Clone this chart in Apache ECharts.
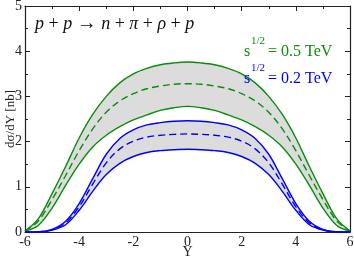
<!DOCTYPE html>
<html><head><meta charset="utf-8">
<script src="https://cdn.jsdelivr.net/npm/echarts@6/dist/echarts.min.js"></script>
<style>html,body{margin:0;padding:0;background:#fff}#c{width:354px;height:259px}</style>
</head><body><div id="c"></div>
<script>
var rapidity = [-6,-5.5,-5,-4.5,-4,-3.5,-3,-2.5,-2,-1.5,-1,-0.5,0,0.5,1,1.5,2,2.5,3,3.5,4,4.5,5,5.5,6];
// sqrt(s) = 0.5 TeV
var g05Upper = [0.02,0.3,0.85,1.45,2.08,2.6,3.0,3.3,3.5,3.62,3.7,3.74,3.76,3.74,3.7,3.62,3.5,3.3,3.0,2.6,2.08,1.45,0.85,0.3,0.02];
var g05Mid   = [0.02,0.25,0.72,1.25,1.8,2.28,2.65,2.9,3.06,3.17,3.23,3.27,3.28,3.27,3.23,3.17,3.06,2.9,2.65,2.28,1.8,1.25,0.72,0.25,0.02];
var g05Lower = [0.02,0.15,0.53,1.03,1.5,1.88,2.14,2.33,2.48,2.59,2.69,2.75,2.78,2.75,2.69,2.59,2.48,2.33,2.14,1.88,1.5,1.03,0.53,0.15,0.02];
// sqrt(s) = 0.2 TeV
var b02Upper = [0,0.005,0.06,0.24,0.63,1.18,1.72,2.07,2.26,2.37,2.42,2.45,2.46,2.45,2.42,2.37,2.26,2.07,1.72,1.18,0.63,0.24,0.06,0.005,0];
var b02Mid   = [0,0.004,0.05,0.2,0.56,1.06,1.53,1.84,2.01,2.1,2.14,2.16,2.17,2.16,2.14,2.1,2.01,1.84,1.53,1.06,0.56,0.2,0.05,0.004,0];
var b02Lower = [0,0.003,0.04,0.16,0.48,0.9,1.27,1.52,1.67,1.76,1.8,1.82,1.83,1.82,1.8,1.76,1.67,1.52,1.27,0.9,0.48,0.16,0.04,0.003,0];

var GREEN = '#0a8c0a', BLUE = '#0000ff', FILL = '#dcdcdc';
var FONT = '"Liberation Serif", "Times New Roman", serif';
var SMOOTH = 0.35;

function pairs(ys){ return rapidity.map(function(x,i){ return [x, ys[i]]; }); }

function area(name, ys, color){
  return {name:name, type:'line', data:pairs(ys), symbol:'none', smooth:SMOOTH,
    lineStyle:{opacity:0}, areaStyle:{color:color, opacity:1}, silent:true, z:1};
}
function line(name, ys, color, dashed){
  return {name:name, type:'line', data:pairs(ys), symbol:'none', smooth:SMOOTH, z:3,
    lineStyle:{color:color, width:1.4, type: dashed ? [7,4] : 'solid'}};
}

var axisCommon = {
  axisLine:{onZero:false, lineStyle:{color:'#222', width:1.2}},
  axisTick:{inside:true, length:5, lineStyle:{color:'#222'}},
  minorTick:{show:true, splitNumber:2, length:3, lineStyle:{color:'#222'}},
  splitLine:{show:false}
};

var chart = echarts.init(document.getElementById('c'), null, {renderer:'canvas'});
chart.setOption({
  animation:false,
  backgroundColor:'#fff',
  grid:{left:25, right:4, top:6, bottom:27, containLabel:false, outerBoundsMode:'none'},
  xAxis:[
    Object.assign({type:'value', min:-6, max:6, interval:2, position:'bottom',
      name:'Y', nameLocation:'middle', nameGap:13, nameMoveOverlap:false,
      nameTextStyle:{fontFamily:FONT, fontSize:14, color:'#222'},
      axisLabel:{fontFamily:FONT, fontSize:14, color:'#222', margin:3}}, axisCommon),
    Object.assign({type:'value', min:-6, max:6, interval:2, position:'top',
      axisLabel:{show:false}}, axisCommon)
  ],
  yAxis:[
    Object.assign({type:'value', min:0, max:5, interval:1, position:'left',
      name:'dσ/dY [nb]', nameLocation:'middle', nameGap:8, nameRotate:90, nameMoveOverlap:false,
      nameTextStyle:{fontFamily:FONT, fontSize:13, color:'#222'},
      axisLabel:{fontFamily:FONT, fontSize:14, color:'#222', margin:3}}, axisCommon),
    Object.assign({type:'value', min:0, max:5, interval:1, position:'right',
      axisLabel:{show:false}}, axisCommon)
  ],
  series:[
    area('g05UpperFill', g05Upper, FILL),
    area('g05LowerMask', g05Lower, '#ffffff'),
    area('b02UpperFill', b02Upper, FILL),
    area('b02LowerMask', b02Lower, '#ffffff'),
    line('g05Upper', g05Upper, GREEN, false),
    line('g05Mid', g05Mid, GREEN, true),
    line('g05Lower', g05Lower, GREEN, false),
    line('b02Upper', b02Upper, BLUE, false),
    line('b02Mid', b02Mid, BLUE, true),
    line('b02Lower', b02Lower, BLUE, false)
  ],
  graphic:[
    {type:'text', left:35, top:14, z:100, style:{
      text:'{i|p} + {i|p} {a|→} {i|n} + {i|π} + {i|ρ} + {i|p}',
      rich:{i:{fontStyle:'italic', fontFamily:FONT, fontSize:18, fill:'#111'},
            a:{fontFamily:FONT, fontSize:20, fill:'#111'}},
      font:'18px ' + FONT, fill:'#111'}},
    {type:'text', x:244, y:44, z:100, style:{text:'s', font:'16px '+FONT, fill:GREEN, textVerticalAlign:'alphabetic'}},
    {type:'text', x:251, y:36, z:100, style:{text:'1/2', font:'11px '+FONT, fill:GREEN, textVerticalAlign:'alphabetic'}},
    {type:'text', x:268, y:44, z:100, style:{text:'= 0.5 TeV', font:'16px '+FONT, fill:GREEN, textVerticalAlign:'alphabetic'}},
    {type:'text', x:244, y:71, z:100, style:{text:'s', font:'16px '+FONT, fill:BLUE, textVerticalAlign:'alphabetic'}},
    {type:'text', x:251, y:63, z:100, style:{text:'1/2', font:'11px '+FONT, fill:BLUE, textVerticalAlign:'alphabetic'}},
    {type:'text', x:268, y:71, z:100, style:{text:'= 0.2 TeV', font:'16px '+FONT, fill:BLUE, textVerticalAlign:'alphabetic'}}
  ]
});
</script></body></html>
